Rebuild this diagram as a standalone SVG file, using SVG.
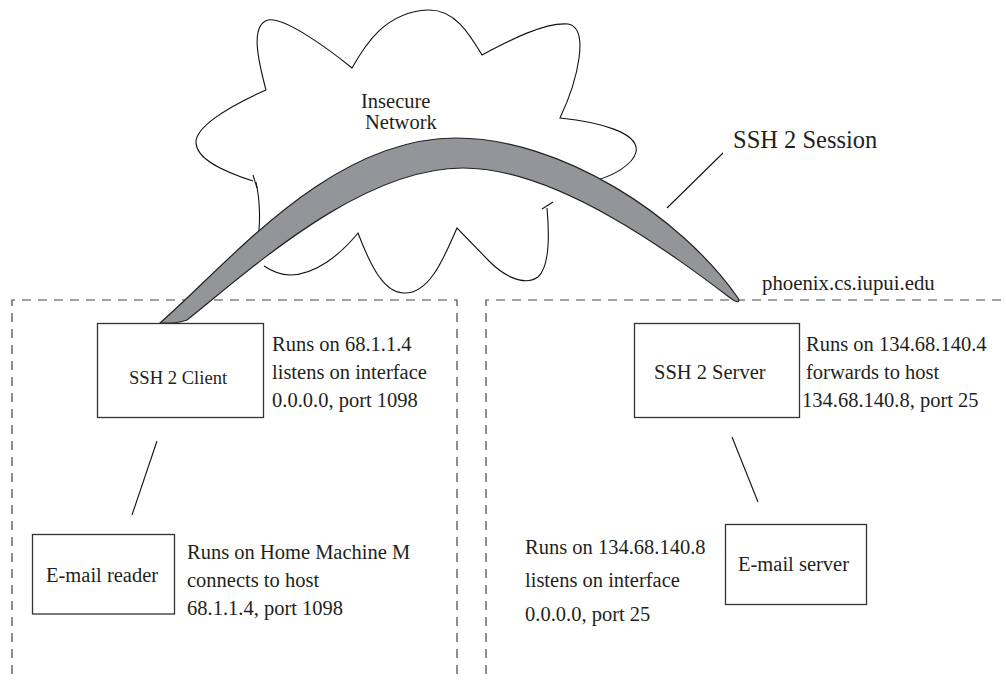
<svg xmlns="http://www.w3.org/2000/svg" width="1006" height="681" viewBox="0 0 1006 681">
<style>
  text { font-family: "Liberation Serif", "Times New Roman", serif; fill: #231f20; font-size: 20.5px; }
  .box { fill: #fff; stroke: #333; stroke-width: 1.3; }
  .dash { fill: none; stroke: #444; stroke-width: 1.2; stroke-dasharray: 9 7; }
  .cloud { fill: none; stroke: #111; stroke-width: 1.1; }
  .conn { stroke: #111; stroke-width: 1.1; fill: none; }
</style>
<rect width="1006" height="681" fill="#fff"/>

<g id="zones">
  <path class="dash" d="M12,690 V300 H457 V690"/>
  <path class="dash" d="M486,690 V300 H1010"/>
</g>

<g id="cloud">
  <path class="cloud" d="M266,90 C258,60 250,25 268,20 C285,17 330,50 352,68 C365,45 385,12 428,10 C455,9 470,35 482,55 C510,40 545,22 568,24 C590,28 578,80 560,118 C600,122 640,133 636,152 C633,165 612,176 597,180"/>
  <path class="cloud" d="M547,208 C549,230 551,265 538,277 C522,288 500,272 490,262 L457,228 C445,255 430,295 403,293 C385,292 372,270 358,233 C340,255 315,275 290,275 C278,275 270,270 264,266"/>
  <path class="cloud" d="M257,244 C261,225 260,200 256,182"/>
  <path class="cloud" d="M253,181 C225,172 197,160 196,143 C195,128 225,108 266,90"/>
  <path class="cloud" d="M253,175 L257,188"/>
  <path class="cloud" d="M542,209 L553,202"/>
  <text x="361" y="108">Insecure</text>
  <text x="365" y="129">Network</text>
</g>

<g id="session">
  <path d="M160,323 C230,262 330,138 456,138 C560,138 680,215 738,298 Q741,304 733,300 C680,260 560,168 463,168 C360,168 250,270 187,320 Q175,324 160,323 Z" fill="#939598" stroke="#222" stroke-width="1.2"/>
  <text x="733" y="148" style="font-size:24.5px">SSH 2 Session</text>
  <text x="762" y="290" style="font-size:20.8px">phoenix.cs.iupui.edu</text>
</g>

<g id="connectors">
  <line class="conn" x1="723" y1="153" x2="667" y2="208"/>
  <line class="conn" x1="157" y1="441" x2="132" y2="515"/>
  <line class="conn" x1="732" y1="437" x2="758" y2="502"/>
</g>

<g id="ssh-client">
  <rect class="box" x="97.5" y="323.5" width="166" height="94"/>
  <text x="129" y="384" style="font-size:18.6px">SSH 2 Client</text>
  <text x="272" y="351">Runs on 68.1.1.4</text>
  <text x="272" y="379">listens on interface</text>
  <text x="272" y="407">0.0.0.0, port 1098</text>
</g>

<g id="email-reader">
  <rect class="box" x="32.5" y="534.5" width="142" height="79.5"/>
  <text x="46" y="582">E-mail reader</text>
  <text x="187" y="559">Runs on Home Machine M</text>
  <text x="187" y="587">connects to host</text>
  <text x="187" y="615">68.1.1.4, port 1098</text>
</g>

<g id="ssh-server">
  <rect class="box" x="634.5" y="323.5" width="165" height="94"/>
  <text x="654" y="379">SSH 2 Server</text>
  <text x="806" y="351">Runs on 134.68.140.4</text>
  <text x="806" y="379">forwards to host</text>
  <text x="802" y="407">134.68.140.8, port 25</text>
</g>

<g id="email-server">
  <rect class="box" x="725.5" y="524.5" width="141" height="80"/>
  <text x="738" y="571">E-mail server</text>
  <text x="525" y="554">Runs on 134.68.140.8</text>
  <text x="525" y="587">listens on interface</text>
  <text x="525" y="621">0.0.0.0, port 25</text>
</g>
</svg>
